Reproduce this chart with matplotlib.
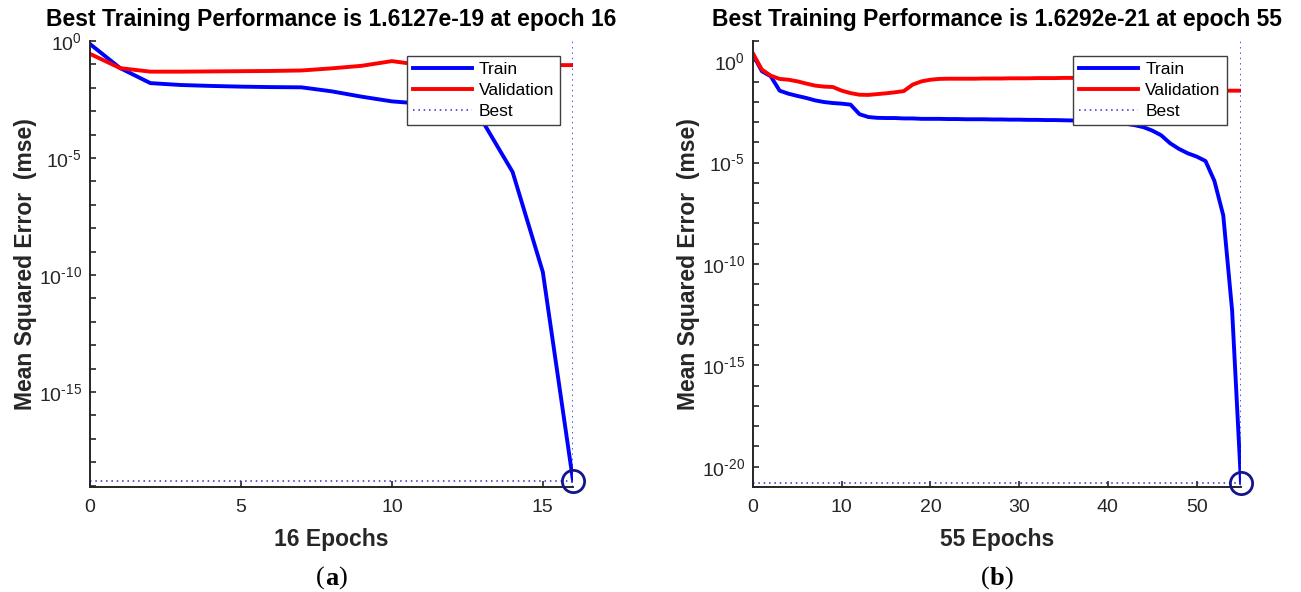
import numpy as np
import matplotlib
matplotlib.use('Agg')
import matplotlib.pyplot as plt
from matplotlib.ticker import FixedLocator, FuncFormatter

plt.rcParams['font.family'] = ['Liberation Sans', 'DejaVu Sans']
plt.rcParams['mathtext.fontset'] = 'custom'
plt.rcParams['mathtext.rm'] = 'Liberation Sans'
plt.rcParams['mathtext.it'] = 'Liberation Sans:italic'
plt.rcParams['mathtext.bf'] = 'Liberation Sans:bold'
plt.rcParams['axes.unicode_minus'] = False

# panel (a): 16 epochs, values stored as log10(mse)
epochs_a = list(range(17))
train_a_log = [-0.13, -1.16, -1.80, -1.88, -1.92, -1.95, -1.97, -1.98, -2.15,
               -2.38, -2.58, -2.68, -2.85, -3.42, -5.60, -9.87, -18.79]
val_a_log = [-0.55, -1.16, -1.31, -1.31, -1.30, -1.29, -1.28, -1.26, -1.17,
             -1.06, -0.86, -1.03, -1.03, -1.03, -1.03, -1.03, -1.03]
best_a = 1.6127e-19
best_epoch_a = 16

# panel (b): 55 epochs
epochs_b = list(range(56))
train_b_log = [0.33, -0.49, -0.74, -1.45, -1.60, -1.71, -1.81, -1.93, -2.01, -2.06,
               -2.09, -2.14, -2.61, -2.75, -2.79, -2.80, -2.80, -2.82, -2.82, -2.84,
               -2.84, -2.84, -2.85, -2.85, -2.86, -2.86, -2.86, -2.87, -2.87, -2.88,
               -2.88, -2.89, -2.89, -2.90, -2.90, -2.91, -2.92, -2.93, -2.95, -2.97,
               -3.00, -3.03, -3.08, -3.15, -3.25, -3.42, -3.65, -4.04, -4.32, -4.54,
               -4.70, -4.92, -5.90, -7.60, -12.30, -20.79]
val_b_log = [0.38, -0.41, -0.71, -0.87, -0.91, -0.99, -1.10, -1.20, -1.25, -1.27,
             -1.45, -1.57, -1.65, -1.66, -1.62, -1.58, -1.53, -1.47, -1.15, -0.99,
             -0.91, -0.87, -0.86, -0.86, -0.86, -0.86, -0.85, -0.85, -0.85, -0.84,
             -0.84, -0.84, -0.83, -0.83, -0.83, -0.82, -0.82, -0.82, -0.82, -0.82,
             -0.82, -0.82, -0.82, -0.82, -0.82, -0.90, -1.00, -1.15, -1.30, -1.40,
             -1.45, -1.45, -1.45, -1.45, -1.45, -1.45]
best_b = 1.6292e-21
best_epoch_b = 55

text_col = '#262626'
best_col = '#2a2ad0'


def decade_fmt(v, pos):
    e = int(round(np.log10(v)))
    if e % 5 != 0:
        return ''
    if e < 0:
        return r'$\mathdefault{10^{\text{-}%d}}$' % (-e)
    return r'$\mathdefault{10^{%d}}$' % e


def perf_panel(ax, epochs, train_log, val_log, best, best_ep, ylim_log, xticks, panel):
    ax.semilogy(epochs, 10.0 ** np.array(train_log), color='blue', lw=2.8, label='Train')
    ax.semilogy(epochs, 10.0 ** np.array(val_log), color='red', lw=2.8, label='Validation')
    ax.plot([0, best_ep], [best, best], ls=(0, (1, 2.5)), color=best_col, lw=1.1,
            label='Best')
    ax.plot([best_ep, best_ep], [10.0 ** ylim_log[0], 10.0 ** ylim_log[1]],
            ls=(0, (1, 2.5)), color=best_col, lw=1.1)
    ax.plot([best_ep], [best], 'o', ms=16, mfc='none', mec='#14148c', mew=2.0,
            clip_on=False, zorder=5)

    ax.set_xlim(0, best_ep)
    ax.set_ylim(10.0 ** ylim_log[0], 10.0 ** ylim_log[1])
    ax.set_xticks(xticks)
    decades = np.arange(int(np.ceil(ylim_log[0])), int(np.floor(ylim_log[1])) + 1)
    ax.yaxis.set_major_locator(FixedLocator(10.0 ** decades))
    ax.yaxis.set_major_formatter(FuncFormatter(decade_fmt))
    ax.yaxis.set_minor_locator(FixedLocator([]))

    for s in ['top', 'right']:
        ax.spines[s].set_visible(False)
    for s in ['left', 'bottom']:
        ax.spines[s].set_color(text_col)
        ax.spines[s].set_linewidth(1.4)
    ax.tick_params(direction='in', length=4, width=1.2, colors=text_col,
                   labelsize=14)
    ax.tick_params(axis='x', pad=9)
    ax.tick_params(axis='y', pad=6)

    ax.set_title('Best Training Performance is %.4e at epoch %d' % (best, best_ep),
                 fontsize=16.5, fontweight='bold', pad=11)
    ax.set_xlabel('%d Epochs' % best_ep, fontsize=16.5, fontweight='bold',
                  color=text_col, labelpad=8)
    ax.set_ylabel('Mean Squared Error  (mse)', fontsize=16.5, fontweight='bold',
                  color=text_col, labelpad=1)

    leg = ax.legend(loc='upper left', bbox_to_anchor=(0.656, 0.967), borderaxespad=0,
                    fontsize=12.5, handlelength=3.4, handletextpad=0.4,
                    labelspacing=0.35, borderpad=0.35, fancybox=False,
                    framealpha=1, edgecolor='#404040')
    leg.get_frame().set_linewidth(1.0)

    # "(a)" caption with bold letter, serif
    cx = ax.get_position().x0 + ax.get_position().width / 2
    fig = ax.figure
    t = fig.text(cx, 0.004, panel, ha='center', va='bottom', fontsize=19,
                 fontweight='bold', family='Liberation Serif')
    ax.annotate('(', xy=(0, 0), xycoords=t, ha='right', va='bottom', fontsize=19,
                family='Liberation Serif')
    ax.annotate(')', xy=(1, 0), xycoords=t, ha='left', va='bottom', fontsize=19,
                family='Liberation Serif')


fig = plt.figure(figsize=(13.01, 5.92), dpi=100)
ax1 = fig.add_axes([90 / 1301, 105 / 592, 483 / 1301, 446 / 592])
ax2 = fig.add_axes([753 / 1301, 105 / 592, 488 / 1301, 446 / 592])

perf_panel(ax1, epochs_a, train_a_log, val_a_log, best_a, best_epoch_a,
           (-19.06, 0.0), [0, 5, 10, 15], 'a')
perf_panel(ax2, epochs_b, train_b_log, val_b_log, best_b, best_epoch_b,
           (-21.0, 1.0), [0, 10, 20, 30, 40, 50], 'b')

fig.savefig('out.png', dpi=100)
